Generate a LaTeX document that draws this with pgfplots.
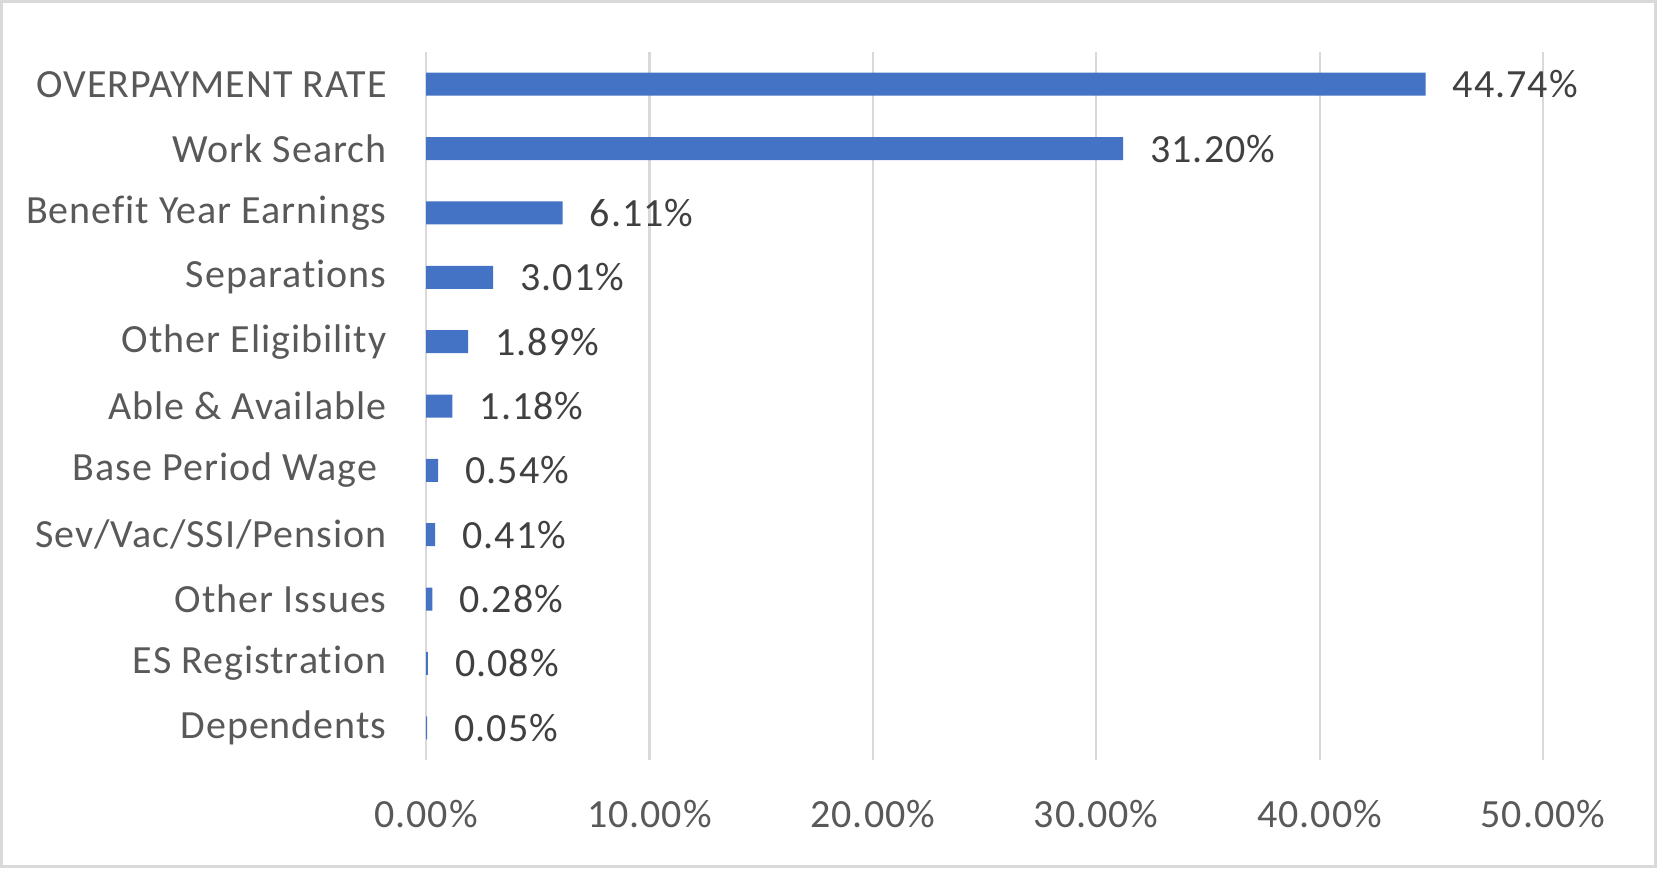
\documentclass[border=0pt]{standalone}
\usepackage{pgfplots}
\pgfplotsset{compat=1.18}
\usepackage{fontspec}
\setmainfont{Carlito}[LetterSpace=2.5,Ligatures=NoCommon]
\definecolor{barblue}{HTML}{4472C4}
\definecolor{gridgray}{HTML}{D9D9D9}
\definecolor{ticktext}{HTML}{595959}
\definecolor{labeltext}{HTML}{404040}
\begin{document}
\begin{tikzpicture}
\useasboundingbox (0,0) rectangle (828.5pt,434pt);
\draw[gridgray, line width=1.5pt] (0.75pt,0.75pt) rectangle (827.75pt,433.25pt);
\begin{axis}[
  at={(213pt,54pt)}, anchor=south west,
  scale only axis, width=558.5pt, height=354pt,
  xbar, bar width=11.5pt,
  xmin=0, xmax=50, ymin=-0.5, ymax=10.5, y dir=reverse,
  axis line style={draw=none},
  xmajorgrids, grid style={gridgray, line width=1.1pt},
  major tick length=0pt,
  xtick={0,10,20,30,40,50},
  xticklabels={0.00\%,10.00\%,20.00\%,30.00\%,40.00\%,50.00\%},
  ytick={0,1,2,3,4,5,6,7,8,9,10},
  yticklabels={OVERPAYMENT RATE,Work Search,Benefit Year Earnings,Separations,Other Eligibility,Able \& Available,Base Period Wage\hspace*{4.7pt},Sev/Vac/SSI/Pension,Other Issues,ES Registration,Dependents},
  /pgf/number format/assume math mode=true,
  tick label style={font=\fontsize{20}{24}\selectfont, text=ticktext, inner sep=0pt},
  x tick label style={anchor=north, yshift=-20pt},
  y tick label style={anchor=east, xshift=-19.5pt},
  nodes near coords, point meta=explicit symbolic,
  every node near coord/.append style={font=\fontsize{20}{24}\selectfont, text=labeltext, anchor=west, inner sep=0pt, xshift=13.5pt},
  clip=false,
]
\addplot[fill=barblue, draw=none] coordinates {
  (44.74,0) [44.74\%]
  (31.20,1) [31.20\%]
  (6.11,2) [6.11\%]
  (3.01,3) [3.01\%]
  (1.89,4) [1.89\%]
  (1.18,5) [1.18\%]
  (0.54,6) [0.54\%]
  (0.41,7) [0.41\%]
  (0.28,8) [0.28\%]
  (0.08,9) [0.08\%]
  (0.05,10) [0.05\%]
};
\end{axis}
\end{tikzpicture}
\end{document}
